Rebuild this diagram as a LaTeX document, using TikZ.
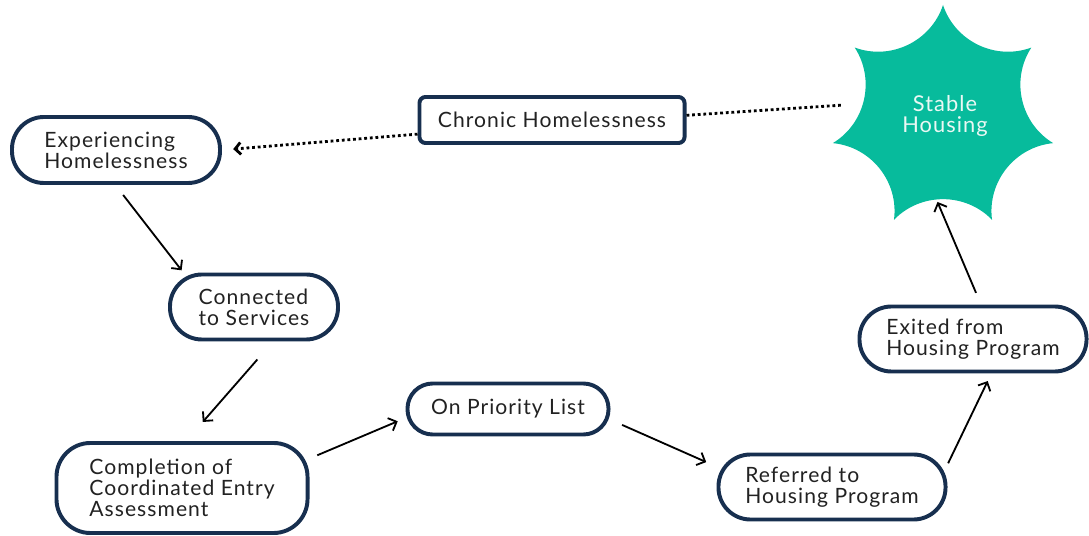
\documentclass[tikz,border=0pt]{standalone}
\usepackage{fontspec}
\setmainfont{Lato}[LetterSpace=5]
\usetikzlibrary{arrows.meta}
\definecolor{okvir}{HTML}{172F4F}
\definecolor{zelena}{HTML}{07BB9C}
\definecolor{tekst}{HTML}{222222}
\definecolor{svetla}{HTML}{EAF8F4}
\begin{document}
\begin{tikzpicture}[
  x=0.025cm, y=-0.025cm,
  box/.style={rectangle, draw=okvir, fill=white, line width=2.8pt, rounded corners=0.8cm,
              align=left, inner sep=0pt, text=tekst, font=\fontsize{15}{15}\selectfont},
  arr/.style={-{Straight Barb[length=1.7mm, width=3.4mm]}, line width=1.3pt, color=black},
  tocke/.style={dotted, line width=2pt, color=black}
]
\useasboundingbox (0,0) rectangle (1089,536);

% zvezda
\fill[zelena] (943,5) \foreach \i in {1,...,7} {
  to[bend right=46] ({943+113*cos(90-\i*51.43)},{118-113*sin(90-\i*51.43)}) } -- cycle;
\node[circle, minimum size=4.3cm, inner sep=0pt, align=center, text=svetla,
      font=\fontsize{15.5}{15.5}\selectfont] (stable) at (945,116) {Stable\\Housing};

\node[box, minimum width=5.2cm, minimum height=1.65cm] (exp) at (116,150) {Experiencing\\Homelessness};
\node[box, minimum width=6.625cm, minimum height=1.15cm, rounded corners=0.15cm] (chr) at (552,120) {Chronic Homelessness};
\node[box, minimum width=4.2cm, minimum height=1.625cm] (con) at (254,307) {Connected\\to Services};
\node[box, minimum width=6.275cm, minimum height=2.25cm, rounded corners=0.85cm] (com) at (182,488) {Completion of\\Coordinated Entry\\Assessment};
\node[box, minimum width=5.025cm, minimum height=1.275cm, rounded corners=0.63cm] (pri) at (508,409) {On Priority List};
\node[box, minimum width=5.675cm, minimum height=1.625cm] (ref) at (832,487) {Referred to\\Housing Program};
\node[box, minimum width=5.675cm, minimum height=1.625cm] (exi) at (973,339) {Exited from\\Housing Program};

\draw[arr, shorten <=9pt, shorten >=2pt] (exp.269) -- (con.154);
\draw[arr, shorten <=17pt, shorten >=18pt] (con.299) -- (com.85);
\draw[arr, shorten <=6pt, shorten >=6pt] (com.13) -- (pri.185);
\draw[arr, shorten <=9pt, shorten >=8pt] (pri.354) -- (ref.170);
\draw[arr, shorten <=1pt, shorten >=6pt] (ref.11) -- (exi.298);
\draw[arr, shorten <=9pt] (exi.77) -- (stable.265);

\draw[tocke, -{Straight Barb[length=1.4mm, width=3mm]}, shorten >=8pt] (chr.186) -- (exp.0);
\draw[tocke, shorten >=13pt] (chr.2) -- (stable.172);
\end{tikzpicture}
\end{document}
